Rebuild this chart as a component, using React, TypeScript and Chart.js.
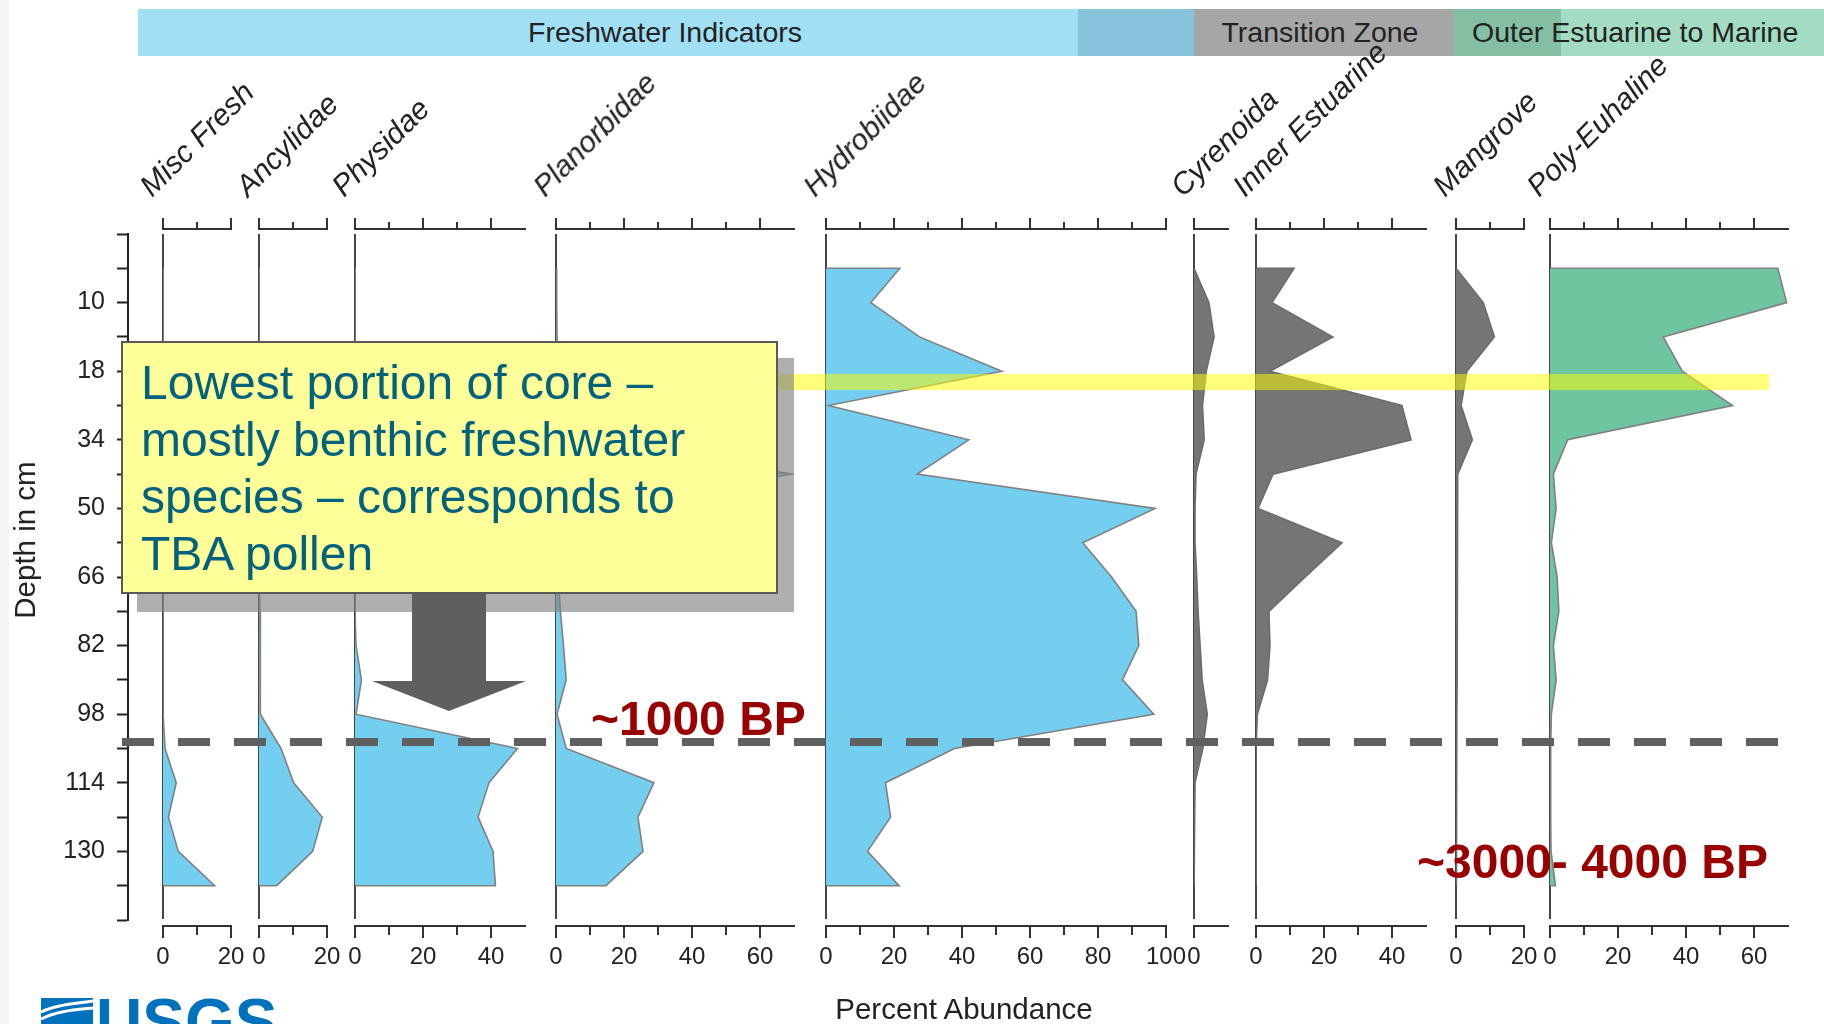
import React, { useEffect, useRef } from 'react';
import { Chart, registerables } from 'chart.js';

Chart.register(...registerables);

// ---------------- data ----------------
const samplePositions = [1, 2, 3, 4, 5, 6, 7, 8, 9, 10, 11, 12, 13, 14, 15, 16, 17, 18, 19];
const depthTickPositions = [2, 4, 6, 8, 10, 12, 14, 16, 18];
const depthTickLabels = ['10', '18', '34', '50', '66', '82', '98', '114', '130'];
const depthAxisMax = 20;

const taxa = ['Misc Fresh', 'Ancylidae', 'Physidae', 'Planorbidae', 'Hydrobiidae', 'Cyrenoida', 'Inner Estuarine', 'Mangrove', 'Poly-Euhaline'];
const axisMax = [20, 20, 50, 70, 100, 10, 50, 20, 70];

const miscFresh = [0, 0, 0, 0, 0, 0, 0, 0, 0, 0, 0, 0.1, 0.1, 0.2, 0.6, 3.9, 1.6, 4.5, 15.2];
const ancylidae = [0, 0, 0, 0, 0, 0, 0, 0, 0, 0, 0.3, 0.5, 0.4, 0.3, 6.5, 10.2, 18.6, 15.8, 5.2];
const physidae = [0, 0, 0, 0, 0, 0, 0, 0, 0, 0, 0, 0.3, 1.9, 0.3, 47.8, 39.4, 36.2, 40.6, 41.3];
const planorbidae = [0.2, 0.2, 0.3, 1, 1, 3, 69.4, 5, 1, 0.6, 1.3, 2.2, 3, 0.3, 3, 28.8, 24.1, 25.6, 14.7];
const hydrobiidae = [21.7, 13.2, 27.5, 51.7, 0.7, 42, 26.8, 96.8, 75.5, 84, 91.2, 92, 87.2, 96.4, 37.8, 17.5, 19, 12.2, 21.5];
const cyrenoida = [0, 4.4, 5.9, 3.6, 2.5, 3, 0.6, 0.3, 0.3, 0.8, 1.2, 1.8, 2.4, 3.9, 2.6, 0.3, 0.2, 0.1, 0];
const innerEstuarine = [11.2, 4.7, 22.6, 4.1, 42.9, 45.6, 5, 0.6, 25.3, 14.5, 3.8, 4.1, 3.4, 0.4, 0, 0, 0, 0, 0];
const mangrove = [0, 8, 11.3, 3.2, 1.5, 4.8, 0.5, 0.4, 0.4, 0.35, 0.3, 0.3, 0.3, 0.25, 0.2, 0.2, 0.15, 0.1, 0.1];
const polyEuhaline = [67, 69.6, 33.3, 38.9, 53.7, 5.2, 1, 1.8, 0.4, 2.1, 2.6, 1, 1.8, 0.4, 0.2, 0.2, 0.2, 0.3, 1.6];

const panelSeries = [miscFresh, ancylidae, physidae, planorbidae, hydrobiidae, cyrenoida, innerEstuarine, mangrove, polyEuhaline];
const panelGroup = ['fresh', 'fresh', 'fresh', 'fresh', 'fresh', 'trans', 'trans', 'trans', 'marine'];

// ---------------- layout / style ----------------
const W = 1824;
const H = 1024;
const AREA_LEFT = 128;
const AREA_RIGHT = 1794;
const AREA_TOP = 234;
const AREA_BOTTOM = 920;
const PX_PER_PCT = 3.4;
const panelGaps = [35, 28, 28, 31, 32, 28, 28, 30, 26];
const TOP_STACK_H = 20;
const BOTTOM_STACK_H = 60;
const TOP_GAP = 5;
const BOTTOM_GAP = 6;
const FONT = "'Liberation Sans', Arial, Helvetica, sans-serif";

const panelWidths = axisMax.map((m) => m * PX_PER_PCT);
const trailingGap = AREA_RIGHT - AREA_LEFT - panelGaps.reduce((a, b) => a + b, 0) - panelWidths.reduce((a, b) => a + b, 0);
const panelStarts: number[] = [];
{
  let x = AREA_LEFT;
  for (let i = 0; i < panelWidths.length; i++) {
    x += panelGaps[i];
    panelStarts.push(x);
    x += panelWidths[i];
  }
}

const fillColors: Record<string, string> = { fresh: '#73CEF0', trans: '#757575', marine: '#6EC5A0' };
const strokeColors: Record<string, string> = { fresh: '#808080', trans: '#6C6C6C', marine: '#808080' };

function tickList(max: number) {
  const out: { value: number }[] = [];
  for (let v = 0; v <= max; v += 10) out.push({ value: v });
  return out;
}

function panelAxis(i: number, position: 'top' | 'bottom') {
  const max = axisMax[i];
  const top = position === 'top';
  return {
    type: 'linear',
    axis: 'x',
    position,
    stack: top ? 'panelsTop' : 'panelsBottom',
    stackWeight: panelWidths[i],
    min: 0,
    max,
    afterBuildTicks: (s: any) => {
      s.ticks = tickList(max);
    },
    afterFit: (s: any) => {
      s.height = top ? TOP_STACK_H : BOTTOM_STACK_H;
    },
    ticks: {
      display: !top,
      autoSkip: false,
      maxRotation: 0,
      minRotation: 0,
      padding: 5,
      color: '#222',
      font: { family: FONT, size: 24 },
      callback: (v: number) => (v % 20 === 0 ? String(v) : ''),
    },
    grid: {
      drawOnChartArea: !top,
      color: (c: any) => (c.tick && c.tick.value === 0 ? '#454545' : 'rgba(0,0,0,0)'),
      lineWidth: 2,
      tickLength: top ? 11 : 12,
      tickWidth: 2,
      tickColor: (c: any) => (c.tick && c.tick.value === max && max % 20 !== 0 ? 'rgba(0,0,0,0)' : '#333'),
      tickBorderDash: (c: any) => (c.tick && c.tick.value % 20 !== 0 ? (top ? [0, 4, 7, 100] : [8, 100]) : []),
    },
    border: { display: true, color: '#333', width: 2 },
  };
}

function spacerAxis(position: 'top' | 'bottom', weight: number) {
  const top = position === 'top';
  return {
    type: 'linear',
    axis: 'x',
    position,
    display: false,
    stack: top ? 'panelsTop' : 'panelsBottom',
    stackWeight: weight,
    afterFit: (s: any) => {
      s.height = top ? TOP_STACK_H : BOTTOM_STACK_H;
    },
  };
}

function buildScales() {
  const scales: any = {};
  scales.y = {
    type: 'linear',
    position: 'left',
    reverse: true,
    min: 0,
    max: depthAxisMax,
    afterBuildTicks: (s: any) => {
      const t: { value: number }[] = [];
      for (let v = 0; v <= depthAxisMax; v++) t.push({ value: v });
      s.ticks = t;
    },
    afterFit: (s: any) => {
      s.width = AREA_LEFT;
    },
    ticks: {
      autoSkip: false,
      padding: 12,
      color: '#222',
      font: { family: FONT, size: 25 },
      callback: (v: number) => {
        const k = depthTickPositions.indexOf(v);
        return k >= 0 ? depthTickLabels[k] : '';
      },
    },
    grid: { drawOnChartArea: false, tickLength: 11, tickWidth: 2, tickColor: '#222' },
    border: { display: true, color: '#222', width: 2 },
  };
  for (let i = 0; i < taxa.length; i++) {
    scales['gb' + i] = spacerAxis('bottom', panelGaps[i]);
    scales['p' + i] = panelAxis(i, 'bottom');
  }
  scales.gbEnd = spacerAxis('bottom', trailingGap);
  // top boxes are laid out in reverse insertion order
  scales.gtEnd = spacerAxis('top', trailingGap);
  for (let i = taxa.length - 1; i >= 0; i--) {
    scales['t' + i] = panelAxis(i, 'top');
    scales['gt' + i] = spacerAxis('top', panelGaps[i]);
  }
  return scales;
}

const axisGapPlugin = {
  id: 'axisGap',
  afterLayout(chart: any) {
    Object.values(chart.scales).forEach((s: any) => {
      if (s.axis !== 'x') return;
      if (s.position === 'top') {
        s.top -= TOP_GAP;
        s.bottom -= TOP_GAP;
      } else if (s.position === 'bottom') {
        s.top += BOTTOM_GAP;
        s.bottom += BOTTOM_GAP;
      }
    });
  },
};

export default function App() {
  const canvasRef = useRef<HTMLCanvasElement>(null);

  useEffect(() => {
    document.body.style.margin = '0';
    const last = samplePositions.length - 1;
    const datasets = panelSeries.map((vals, i) => ({
      label: taxa[i],
      data: [
        { x: 0, y: samplePositions[0] },
        ...vals.map((v, k) => ({ x: v, y: samplePositions[k] })),
        { x: 0, y: samplePositions[last] },
      ],
      xAxisID: 'p' + i,
      yAxisID: 'y',
      fill: 'origin',
      backgroundColor: fillColors[panelGroup[i]],
      borderColor: strokeColors[panelGroup[i]],
      borderWidth: 1.6,
      pointRadius: 0,
      tension: 0,
    }));
    const chart = new Chart(canvasRef.current as HTMLCanvasElement, {
      type: 'line',
      data: { datasets } as any,
      options: {
        indexAxis: 'y',
        responsive: false,
        animation: false,
        events: [],
        layout: { padding: { top: AREA_TOP - TOP_STACK_H, bottom: H - AREA_BOTTOM - BOTTOM_STACK_H, left: 0, right: W - AREA_RIGHT } },
        plugins: { legend: { display: false }, tooltip: { enabled: false }, title: { display: false } },
        scales: buildScales(),
      } as any,
      plugins: [axisGapPlugin as any],
    });
    return () => chart.destroy();
  }, []);

  const calloutLines = ['Lowest portion of core \u2013', 'mostly benthic freshwater', 'species \u2013 corresponds to', 'TBA pollen'];

  return (
    <div style={{ position: 'fixed', left: 0, top: 0, width: W, height: H, overflow: 'hidden', background: '#fff' }}>
      <canvas ref={canvasRef} width={W} height={H} style={{ position: 'absolute', left: 0, top: 0, width: W, height: H }} />
      <svg width={W} height={H} style={{ position: 'absolute', left: 0, top: 0, pointerEvents: 'none' }} fontFamily={FONT}>
        <rect x={0} y={0} width={9} height={H} fill="#F4F4F4" />
        {/* zone band */}
        <rect x={138} y={9} width={940} height={47} fill="#A1DFF5" />
        <rect x={1078} y={9} width={116} height={47} fill="#86C3DB" />
        <rect x={1194} y={9} width={259} height={47} fill="#A6A6A6" />
        <rect x={1453} y={9} width={108} height={47} fill="#84BFA4" />
        <rect x={1561} y={9} width={263} height={47} fill="#A3DCC3" />
        <text x={665} y={42} fontSize={28.5} fill="#222" textAnchor="middle">Freshwater Indicators</text>
        <text x={1320} y={42} fontSize={28.5} fill="#222" textAnchor="middle">Transition Zone</text>
        <text x={1472} y={42} fontSize={28.5} fill="#222">Outer Estuarine to Marine</text>

        {/* panel names */}
        {taxa.map((t, i) => {
          const x = panelStarts[i] - 11;
          const y = 198;
          return (
            <text key={t} x={x} y={y} fontSize={30} fontStyle="italic" fill="#222" transform={`rotate(-45 ${x} ${y})`}>
              {t}
            </text>
          );
        })}

        {/* axis titles */}
        <text transform="translate(35 540) rotate(-90)" fontSize={29.5} fill="#222" textAnchor="middle">Depth in cm</text>
        <text x={964} y={1019} fontSize={29.5} fill="#222" textAnchor="middle">Percent Abundance</text>

        {/* highlight band */}
        <rect x={700} y={374} width={1069} height={16} fill="#FFFF00" opacity={0.52} />

        {/* dashed boundary */}
        <line x1={122} y1={742} x2={1778} y2={742} stroke="#5F5F5F" strokeWidth={8} strokeDasharray="32 24" />

        {/* callout */}
        <rect x={137} y={358} width={657} height={254} fill="rgba(128,128,128,0.63)" />
        <rect x={122} y={342} width={655} height={251} fill="#FFFF99" stroke="#595959" strokeWidth={2} />
        {calloutLines.map((l, i) => (
          <text key={i} x={141} y={399 + i * 57} fontSize={48} fill="#02617C">{l}</text>
        ))}
        <polygon points="412,594 486,594 486,681 526,681 449,711 372,681 412,681" fill="#5F5F5F" />

        {/* age labels */}
        <text x={591} y={735} fontSize={48} fontWeight="bold" fill="#990000">~1000 BP</text>
        <text x={1417} y={878} fontSize={48} fontWeight="bold" fill="#990000">~3000- 4000 BP</text>

        {/* USGS logo (cropped by page edge) */}
        <rect x={41} y={998} width={52} height={30} fill="#0071BC" />
        <path d="M41 1012 C55 1005 72 1004 93 1001" stroke="#fff" strokeWidth={3} fill="none" />
        <path d="M41 1019 C57 1011 74 1010 93 1008" stroke="#fff" strokeWidth={3} fill="none" />
        <text x={96} y={1044} fontSize={64} fontWeight="bold" fill="#0071BC">USGS</text>
      </svg>
    </div>
  );
}
